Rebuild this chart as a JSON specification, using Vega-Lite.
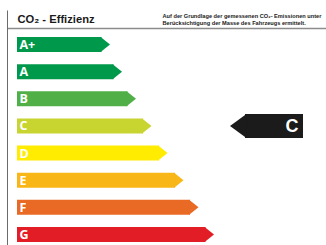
{
  "$schema": "https://vega.github.io/schema/vega-lite/v6.json",
  "width": 319,
  "height": 235,
  "autosize": {"type": "none"},
  "padding": {"left": 7, "top": 10, "right": 0, "bottom": 0},
  "background": "white",
  "config": {"view": {"stroke": null}},
  "datasets": {
    "classes": [
      {"cls": "A+", "len": 84.5},
      {"cls": "A", "len": 96.5},
      {"cls": "B", "len": 110.5},
      {"cls": "C", "len": 126},
      {"cls": "D", "len": 142},
      {"cls": "E", "len": 158},
      {"cls": "F", "len": 173},
      {"cls": "G", "len": 188.5}
    ],
    "rating": [{"cls": "C", "from": 228, "to": 286}]
  },
  "layer": [
    {
      "data": {"name": "classes"},
      "mark": {"type": "bar", "cornerRadius": 0},
      "encoding": {
        "y": {
          "field": "cls",
          "type": "nominal",
          "sort": ["A+", "A", "B", "C", "D", "E", "F", "G"],
          "scale": {
            "domain": ["A+", "A", "B", "C", "D", "E", "F", "G"],
            "paddingInner": 0.447,
            "paddingOuter": 0.553,
            "align": 0.9
          },
          "axis": {
            "orient": "left",
            "labels": false,
            "ticks": false,
            "domain": true,
            "domainColor": "#6b6b6b",
            "domainWidth": 1,
            "grid": false,
            "title": "CO₂ - Effizienz",
            "titleAngle": 0,
            "titleX": 10,
            "titleY": 12.5,
            "titleAlign": "left",
            "titleBaseline": "alphabetic",
            "titleFont": "Liberation Sans",
            "titleFontSize": 11.2,
            "titleFontWeight": "bold",
            "titleColor": "#1a1a1a"
          }
        },
        "x": {
          "field": "len",
          "type": "quantitative",
          "scale": {"domain": [-10, 309], "nice": false, "zero": false},
          "axis": {
            "orient": "top",
            "offset": -18,
            "labels": false,
            "ticks": false,
            "grid": false,
            "domain": true,
            "domainColor": "#8c8c8c",
            "domainWidth": 1.6,
            "title": ["Auf der Grundlage der gemessenen CO₂- Emissionen unter", "Berücksichtigung der Masse des Fahrzeugs ermittelt."],
            "titleX": 155,
            "titleY": -11,
            "titleAlign": "left",
            "titleBaseline": "alphabetic",
            "titleFont": "Liberation Sans",
            "titleFontSize": 5.65,
            "titleFontWeight": "bold",
            "titleLineHeight": 7.2,
            "titleLimit": 1000,
            "titleColor": "#222222"
          }
        },
        "color": {
          "field": "cls",
          "type": "nominal",
          "scale": {
            "domain": ["A+", "A", "B", "C", "D", "E", "F", "G"],
            "range": ["#00984a", "#00984a", "#50b047", "#c8d430", "#ffec00", "#f8b617", "#e86a25", "#e31d25"]
          },
          "legend": null
        }
      }
    },
    {
      "data": {"name": "classes"},
      "mark": {
        "type": "point",
        "shape": "M-0.12,-1L1.13,0L-0.12,1Z",
        "filled": true,
        "opacity": 1,
        "strokeWidth": 0,
        "size": 225
      },
      "encoding": {
        "y": {"field": "cls", "type": "nominal"},
        "x": {"field": "len", "type": "quantitative"},
        "color": {"field": "cls", "type": "nominal", "legend": null}
      }
    },
    {
      "data": {"name": "classes"},
      "mark": {
        "type": "text",
        "align": "left",
        "baseline": "middle",
        "font": "Open Sans",
        "fontWeight": "bold",
        "fontSize": 12.5,
        "color": "white",
        "dy": 0.5
      },
      "encoding": {
        "y": {"field": "cls", "type": "nominal"},
        "x": {"datum": 2.5, "type": "quantitative"},
        "text": {"field": "cls"}
      }
    },
    {
      "data": {"name": "rating"},
      "mark": {"type": "bar", "height": 24, "color": "#1b1b1b"},
      "encoding": {
        "y": {"field": "cls", "type": "nominal"},
        "x": {"field": "from", "type": "quantitative"},
        "x2": {"field": "to"}
      }
    },
    {
      "data": {"name": "rating"},
      "mark": {
        "type": "point",
        "shape": "M0.12,-1L-1.25,0L0.12,1Z",
        "filled": true,
        "opacity": 1,
        "strokeWidth": 0,
        "size": 576,
        "color": "#1b1b1b"
      },
      "encoding": {
        "y": {"field": "cls", "type": "nominal"},
        "x": {"field": "from", "type": "quantitative"}
      }
    },
    {
      "data": {"name": "rating"},
      "mark": {
        "type": "text",
        "align": "center",
        "baseline": "middle",
        "font": "Liberation Sans",
        "fontWeight": "bold",
        "fontSize": 18,
        "color": "white",
        "dy": 1
      },
      "encoding": {
        "y": {"field": "cls", "type": "nominal"},
        "x": {"datum": 275, "type": "quantitative"},
        "text": {"field": "cls"}
      }
    }
  ]
}
